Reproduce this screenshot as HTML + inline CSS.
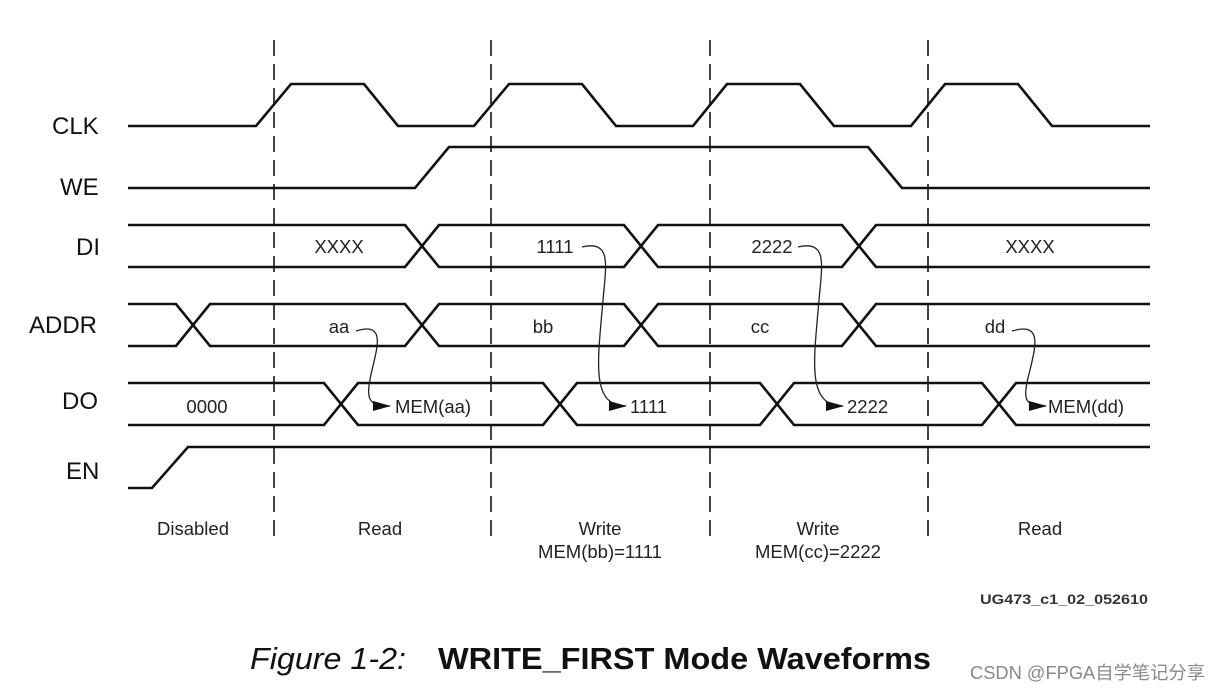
<!DOCTYPE html>
<html><head><meta charset="utf-8"><style>
html,body{margin:0;padding:0;background:#fff;}
svg{display:block;}
.lbl{font-family:"Liberation Sans",sans-serif;font-size:24px;fill:#111;}
.t{font-family:"Liberation Sans",sans-serif;font-size:18.5px;fill:#222;text-anchor:middle;}
.ta{font-family:"Liberation Sans",sans-serif;font-size:18.5px;fill:#222;}
.w{fill:none;stroke:#111;stroke-width:2.6;}
.d{fill:none;stroke:#444;stroke-width:2;stroke-dasharray:16,8;}
.c{fill:none;stroke:#222;stroke-width:1.3;}
</style></head><body>
<svg width="1221" height="692" viewBox="0 0 1221 692" xmlns="http://www.w3.org/2000/svg">
<defs><marker id="ar" markerWidth="18" markerHeight="10" refX="17" refY="5" orient="auto" markerUnits="userSpaceOnUse"><path d="M0,0 L18,5 L0,10 Z" fill="#111"/></marker></defs>
<line class="d" x1="274" y1="40" x2="274" y2="540"/>
<line class="d" x1="491" y1="40" x2="491" y2="540"/>
<line class="d" x1="710" y1="40" x2="710" y2="540"/>
<line class="d" x1="928" y1="40" x2="928" y2="540"/>
<text class="lbl" x="52" y="134">CLK</text>
<text class="lbl" x="60" y="195">WE</text>
<text class="lbl" x="76" y="255">DI</text>
<text class="lbl" x="29" y="333">ADDR</text>
<text class="lbl" x="62" y="409">DO</text>
<text class="lbl" x="66" y="479">EN</text>
<polyline class="w" points="128,126 256,126 291,84 364,84 398,126 474,126 509,84 582,84 616,126 693,126 727,84 800,84 834,126 911,126 945,84 1018,84 1052,126 1150,126"/>
<polyline class="w" points="128,188 415,188 449,147 868,147 902,188 1150,188"/>
<polyline class="w" points="128,225 405,225 439,267 624,267 658,225 842,225 876,267 1150,267"/>
<polyline class="w" points="128,267 405,267 439,225 624,225 658,267 842,267 876,225 1150,225"/>
<polyline class="w" points="128,304 176,304 210,346 405,346 439,304 624,304 658,346 842,346 876,304 1150,304"/>
<polyline class="w" points="128,346 176,346 210,304 405,304 439,346 624,346 658,304 842,304 876,346 1150,346"/>
<polyline class="w" points="128,383 324,383 358,425 543,425 577,383 760,383 794,425 982,425 1016,383 1150,383"/>
<polyline class="w" points="128,425 324,425 358,383 543,383 577,425 760,425 794,383 982,383 1016,425 1150,425"/>
<polyline class="w" points="128,488 152,488 188,447 1150,447"/>
<text class="t" x="339" y="253">XXXX</text>
<text class="t" x="555" y="253">1111</text>
<text class="t" x="772" y="253">2222</text>
<text class="t" x="1030" y="253">XXXX</text>
<text class="t" x="339" y="333">aa</text>
<text class="t" x="543" y="333">bb</text>
<text class="t" x="760" y="333">cc</text>
<text class="t" x="995" y="333">dd</text>
<text class="t" x="207" y="413">0000</text>
<text class="ta" x="395" y="413">MEM(aa)</text>
<text class="ta" x="630" y="413">1111</text>
<text class="ta" x="847" y="413">2222</text>
<text class="ta" x="1048" y="413">MEM(dd)</text>
<path class="c" marker-end="url(#ar)" d="M356,331 C385,322 378,345 372,370 C365,400 368,406 390,406"/>
<path class="c" marker-end="url(#ar)" d="M582,247 C612,240 606,265 603,300 C598,360 590,406 626,406"/>
<path class="c" marker-end="url(#ar)" d="M798,247 C828,240 822,265 819,300 C814,360 806,406 843,406"/>
<path class="c" marker-end="url(#ar)" d="M1012,331 C1042,322 1036,345 1030,370 C1022,400 1024,406 1046,406"/>
<text class="t" x="193" y="535">Disabled</text>
<text class="t" x="380" y="535">Read</text>
<text class="t" x="600" y="535">Write</text>
<text class="t" x="600" y="558">MEM(bb)=1111</text>
<text class="t" x="818" y="535">Write</text>
<text class="t" x="818" y="558">MEM(cc)=2222</text>
<text class="t" x="1040" y="535">Read</text>
<text x="980" y="604" textLength="168" lengthAdjust="spacingAndGlyphs" style="font-family:'Liberation Sans',sans-serif;font-size:14px;font-weight:bold;fill:#333">UG473_c1_02_052610</text>
<text x="250" y="669" textLength="156" lengthAdjust="spacingAndGlyphs" style="font-family:'Liberation Sans',sans-serif;font-size:31px;font-style:italic;fill:#111">Figure 1-2:</text>
<text x="438" y="669" textLength="493" lengthAdjust="spacingAndGlyphs" style="font-family:'Liberation Sans',sans-serif;font-size:31px;font-weight:bold;fill:#111">WRITE_FIRST Mode Waveforms</text>
<text x="970" y="679" textLength="235" lengthAdjust="spacingAndGlyphs" style="font-family:'Liberation Sans','Noto Sans CJK SC',sans-serif;font-size:18px;fill:#888">CSDN @FPGA自学笔记分享</text>
</svg>
</body></html>
